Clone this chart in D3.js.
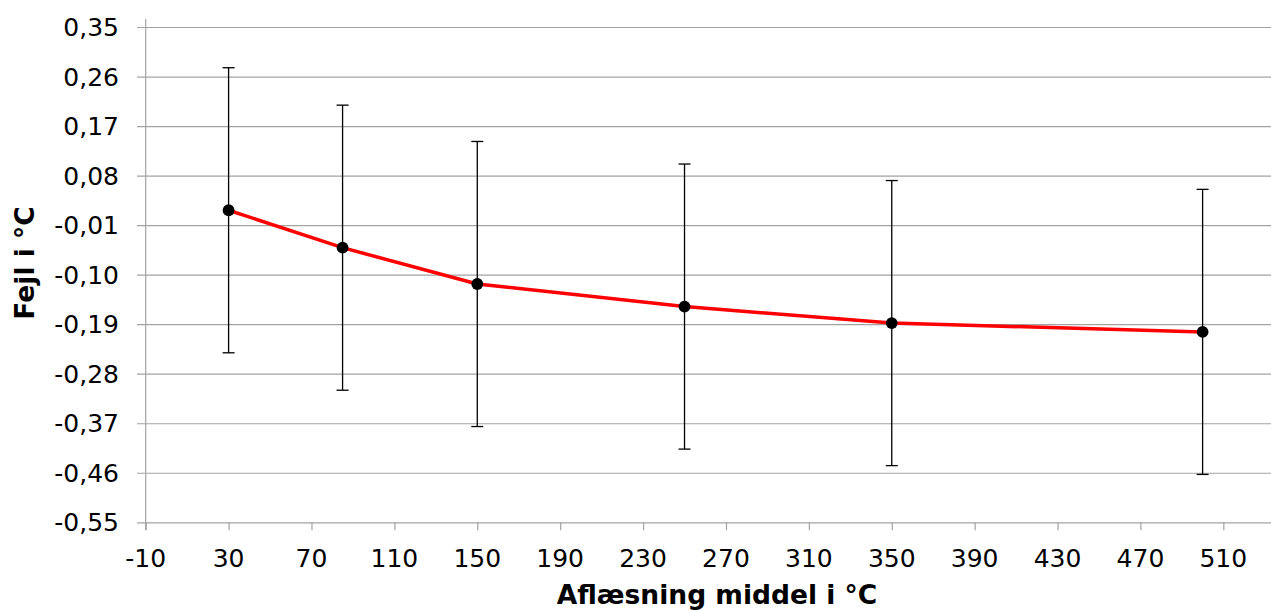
<!DOCTYPE html>
<html>
<head>
<meta charset="utf-8">
<script src="https://cdn.jsdelivr.net/npm/d3@7"></script>
<style>
  html, body { margin: 0; padding: 0; background: #fff; }
  svg { display: block; font-family: "DejaVu Sans", Verdana, sans-serif; }
</style>
</head>
<body>
<svg id="chart" width="1271" height="611"></svg>
<script>
// ---- data ----
const xValues = [30, 85, 150, 250, 350, 500];
const errorValues = [0.017, -0.051, -0.117, -0.158, -0.188, -0.204];
const errorMargins = [0.259, 0.259, 0.259, 0.259, 0.259, 0.259];
const xTicks = [-10, 30, 70, 110, 150, 190, 230, 270, 310, 350, 390, 430, 470, 510];
const yTicks = [0.35, 0.26, 0.17, 0.08, -0.01, -0.10, -0.19, -0.28, -0.37, -0.46, -0.55];
const xTitle = "Aflæsning middel i °C";
const yTitle = "Fejl i °C";

const svg = d3.select("#chart");

const x = d3.scaleLinear().domain([-10, 533]).range([145.7, 1271]);
const y = d3.scaleLinear().domain([-0.55, 0.35]).range([522.3, 27]);

const fmt = v => d3.format(".2f")(v).replace(".", ",").replace("−", "-");
const gridColor = "#a3a3a3";

// gridlines + y ticks
const yAxis = d3.axisLeft(y).tickValues(yTicks).tickSize(-(1271 - 145.7)).tickSizeOuter(0).tickPadding(0).tickFormat("");
const gy = svg.append("g").attr("transform", "translate(145.7,0)").call(yAxis);
gy.select(".domain").remove();
gy.selectAll(".tick line").attr("x1", -8.7).attr("stroke", gridColor).attr("stroke-width", 1.2);

svg.append("g").selectAll("text").data(yTicks).join("text")
  .attr("x", 119).attr("y", d => y(d)).attr("dy", "0.36em")
  .attr("text-anchor", "end").attr("font-size", 25).attr("fill", "#000")
  .text(fmt);

// y axis line
svg.append("line").attr("x1", 145.7).attr("x2", 145.7).attr("y1", 19).attr("y2", 530)
  .attr("stroke", gridColor).attr("stroke-width", 1.2);

// x ticks
const xAxis = d3.axisBottom(x).tickValues(xTicks).tickSize(8).tickSizeOuter(0).tickFormat("");
const gx = svg.append("g").attr("transform", `translate(0,${y(-0.55)})`).call(xAxis);
gx.select(".domain").remove();
gx.selectAll(".tick line").attr("stroke", gridColor).attr("stroke-width", 1.2);

svg.append("g").selectAll("text").data(xTicks).join("text")
  .attr("x", d => x(d)).attr("y", 567)
  .attr("text-anchor", "middle").attr("font-size", 25).attr("fill", "#000")
  .text(d => String(d));

// error bars
const pts = xValues.map((v, i) => ({ x: v, y: errorValues[i], e: errorMargins[i] }));
const eb = svg.append("g").attr("stroke", "#000").attr("stroke-width", 1.3);
eb.selectAll("line.v").data(pts).join("line").attr("class", "v")
  .attr("x1", d => x(d.x)).attr("x2", d => x(d.x))
  .attr("y1", d => y(d.y + d.e)).attr("y2", d => y(d.y - d.e));
eb.selectAll("line.t").data(pts).join("line").attr("class", "t")
  .attr("x1", d => x(d.x) - 6).attr("x2", d => x(d.x) + 6)
  .attr("y1", d => y(d.y + d.e)).attr("y2", d => y(d.y + d.e));
eb.selectAll("line.b").data(pts).join("line").attr("class", "b")
  .attr("x1", d => x(d.x) - 6).attr("x2", d => x(d.x) + 6)
  .attr("y1", d => y(d.y - d.e)).attr("y2", d => y(d.y - d.e));

// line
svg.append("path").datum(pts)
  .attr("fill", "none").attr("stroke", "#ff0000").attr("stroke-width", 3.5)
  .attr("stroke-linejoin", "round")
  .attr("d", d3.line().x(d => x(d.x)).y(d => y(d.y)));

// markers
svg.append("g").selectAll("circle").data(pts).join("circle")
  .attr("cx", d => x(d.x)).attr("cy", d => y(d.y)).attr("r", 5.9).attr("fill", "#000");

// titles
svg.append("text").attr("x", 717).attr("y", 604)
  .attr("text-anchor", "middle").attr("font-size", 26.5).attr("font-weight", "bold")
  .text(xTitle);
svg.append("text").attr("transform", "translate(34,263) rotate(-90)")
  .attr("text-anchor", "middle").attr("font-size", 26.5).attr("font-weight", "bold")
  .text(yTitle);
</script>
</body>
</html>
